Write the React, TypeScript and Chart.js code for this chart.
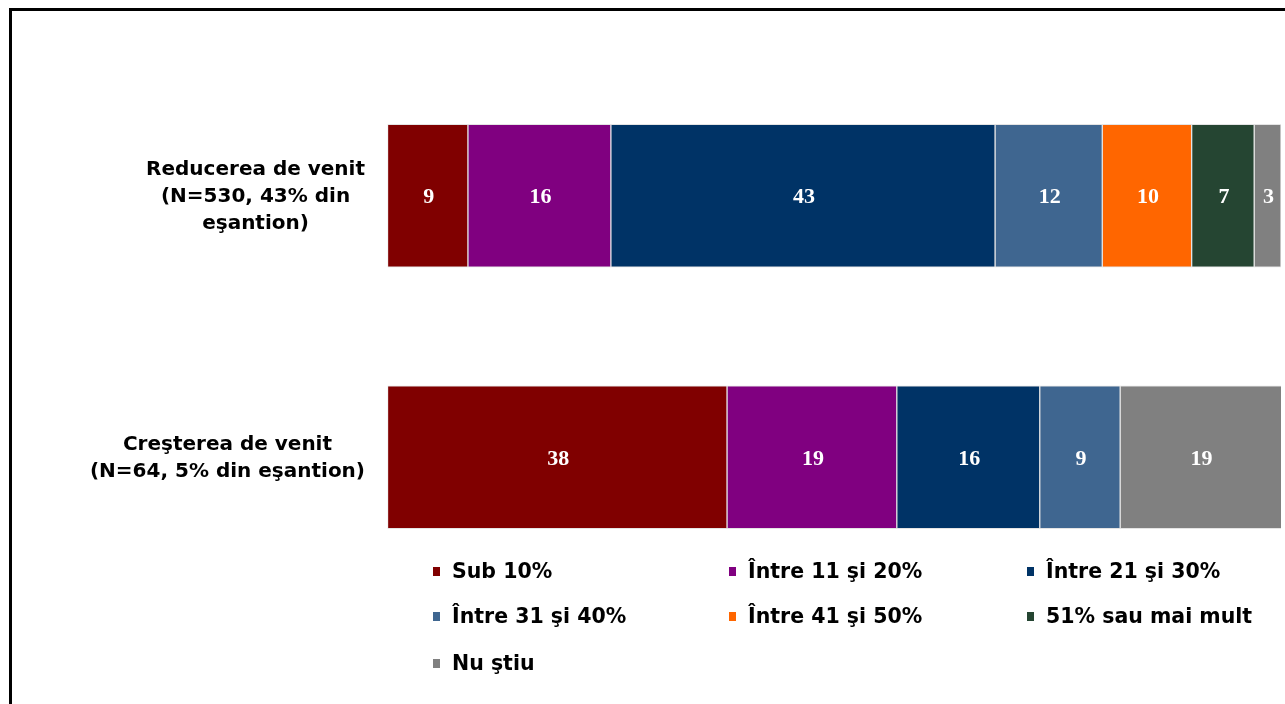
import React, { useEffect, useRef } from "react";
import { Chart, registerables } from "chart.js";

Chart.register(...registerables);

const categories: string[][] = [
  ["Reducerea de venit", "(N=530, 43% din", "eşantion)"],
  ["Creşterea de venit", "(N=64, 5% din eşantion)"],
];
const seriesNames = [
  "Sub 10%",
  "Între 11 şi 20%",
  "Între 21 şi 30%",
  "Între 31 şi 40%",
  "Între 41 şi 50%",
  "51% sau mai mult",
  "Nu ştiu",
];
const seriesColors = ["#800000", "#800080", "#003366", "#3F6690", "#FF6600", "#254532", "#808080"];
const sub10 = [9, 38];
const intre11_20 = [16, 19];
const intre21_30 = [43, 16];
const intre31_40 = [12, 9];
const intre41_50 = [10, null];
const peste51 = [7, null];
const nuStiu = [3, 19];
const seriesValues = [sub10, intre11_20, intre21_30, intre31_40, intre41_50, peste51, nuStiu];

const FONT_SANS = "'DejaVu Sans', Verdana, sans-serif";
const FONT_SERIF = "'Liberation Serif', 'Times New Roman', serif";

const framePlugin = {
  id: "frame",
  beforeDraw(chart: any) {
    const ctx = chart.ctx;
    ctx.save();
    ctx.fillStyle = "#ffffff";
    ctx.fillRect(0, 0, chart.width, chart.height);
    ctx.fillStyle = "#000000";
    ctx.fillRect(9, 8, chart.width - 9, 3);
    ctx.fillRect(9, 8, 3, chart.height - 8);
    ctx.restore();
  },
};

const valueLabelPlugin = {
  id: "valueLabels",
  afterDatasetsDraw(chart: any) {
    const ctx = chart.ctx;
    ctx.save();
    ctx.fillStyle = "#ffffff";
    ctx.font = `bold 22px ${FONT_SERIF}`;
    ctx.textAlign = "center";
    ctx.textBaseline = "middle";
    chart.data.datasets.forEach((ds: any, di: number) => {
      const meta = chart.getDatasetMeta(di);
      meta.data.forEach((el: any, i: number) => {
        const v = ds.data[i];
        if (v === null || v === undefined || v === 0) return;
        const p = el.getProps(["x", "y", "base"], true);
        const cx = (Math.min(p.x, chart.chartArea.right) + p.base) / 2;
        ctx.fillText(String(v), cx + 1, p.y + 2);
      });
    });
    ctx.restore();
  },
};

const categoryLabelPlugin = {
  id: "categoryLabels",
  afterDraw(chart: any) {
    const ctx = chart.ctx;
    const yScale = chart.scales.y;
    ctx.save();
    ctx.fillStyle = "#000000";
    ctx.font = `bold 20px ${FONT_SANS}`;
    ctx.textAlign = "center";
    ctx.textBaseline = "middle";
    const right = 365;
    const lineH = 27;
    categories.forEach((lines, i) => {
      const cy = yScale.getPixelForValue(i) + 1;
      const w = Math.max(...lines.map((l) => ctx.measureText(l).width));
      const cx = right - w / 2;
      const y0 = cy - ((lines.length - 1) * lineH) / 2;
      lines.forEach((l, k) => ctx.fillText(l, cx, y0 + k * lineH));
    });
    ctx.restore();
  },
};

const legendPlugin = {
  id: "customLegend",
  afterDraw(chart: any) {
    const ctx = chart.ctx;
    ctx.save();
    ctx.font = `bold 20.5px ${FONT_SANS}`;
    ctx.textBaseline = "middle";
    ctx.textAlign = "left";
    const colX = [433, 729, 1027];
    const rowY = [572, 617, 664];
    seriesNames.forEach((name, i) => {
      const x = colX[i % 3];
      const y = rowY[Math.floor(i / 3)];
      ctx.fillStyle = seriesColors[i];
      ctx.fillRect(x, y - 5, 7, 9);
      ctx.fillStyle = "#000000";
      ctx.fillText(name, x + 19, y + 1);
    });
    ctx.restore();
  },
};

export default function App() {
  const ref = useRef<HTMLCanvasElement | null>(null);
  useEffect(() => {
    if (!ref.current) return;
    const chart = new Chart(ref.current, {
      type: "bar",
      data: {
        labels: categories.map((c) => c.join(" ")),
        datasets: seriesNames.map((name, i) => ({
          label: name,
          data: seriesValues[i] as any,
          backgroundColor: seriesColors[i],
          borderColor: "#e4e4e4",
          borderWidth: 1,
          borderSkipped: false,
          barThickness: 143,
        })),
      },
      options: {
        indexAxis: "y",
        animation: false,
        responsive: false,
        maintainAspectRatio: false,
        layout: { padding: { top: 65, bottom: 116, left: 387.5, right: 4 } },
        scales: {
          x: { stacked: true, min: 0, max: 100, display: false },
          y: { stacked: true, display: false, offset: true },
        },
        plugins: {
          legend: { display: false },
          tooltip: { enabled: false },
          title: { display: false },
        },
      },
      plugins: [framePlugin, valueLabelPlugin, categoryLabelPlugin, legendPlugin],
    });
    return () => chart.destroy();
  }, []);
  return (
    <div style={{ position: "fixed", left: 0, top: 0, width: 1285, height: 704, background: "#fff" }}>
      <canvas ref={ref} width={1285} height={704} style={{ width: 1285, height: 704, display: "block" }} />
    </div>
  );
}
